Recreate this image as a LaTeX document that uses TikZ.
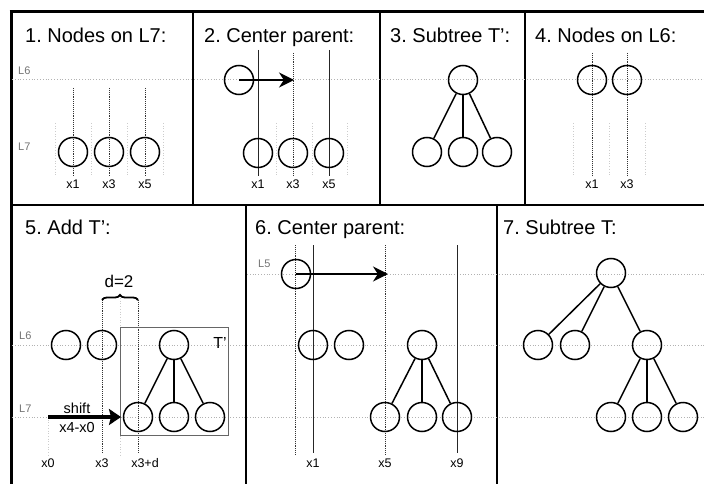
\documentclass[tikz,border=0pt]{standalone}
\usepackage{fontspec}
\setmainfont{Liberation Sans}
\usetikzlibrary{arrows.meta,decorations.pathreplacing}
\frenchspacing
\begin{document}
\begin{tikzpicture}[x=1pt,y=-1pt,
  nd/.style={circle, fill=none, draw=black, line width=1.5pt, minimum size=29pt, inner sep=0pt},
  edge/.style={line width=1.5pt},
  lvl/.style={gray!60, dotted, line width=0.8pt},
  guide/.style={black!80, densely dotted, line width=0.9pt},
  bound/.style={gray!40, dotted, line width=0.7pt},
  rail/.style={black!85, line width=0.7pt},
  frame/.style={black, line width=1.5pt},
  ttl/.style={anchor=base west, inner sep=0pt, font=\fontsize{20}{24}\selectfont},
  xl/.style={inner sep=0pt, font=\fontsize{12.5}{14}\selectfont},
  ll/.style={anchor=base west, inner sep=0pt, text=gray!90!black, font=\fontsize{11}{13}\selectfont},
  push/.style={line width=2pt, -{Stealth[length=15pt,width=15pt]}}]
\useasboundingbox (0,0) rectangle (704,484);
\draw [line width=3pt] (9.5,12) -- (704,12);
\draw [line width=3pt] (11,10.5) -- (11,484);
\draw [frame] (11,205) -- (704,205);
\draw [frame] (193,12) -- (193,205);
\draw [frame] (380,12) -- (380,205);
\draw [frame] (525,12) -- (525,205);
\draw [frame] (246,205) -- (246,484);
\draw [frame] (497,205) -- (497,484);
\node [ttl] (t1) at (25,43) {1. Nodes on L7:};
\node [ttl] (t2) at (204,43) {2. Center parent:};
\node [ttl] (t3) at (390,43) {3. Subtree T':};
\node [ttl] (t4) at (535,43) {4. Nodes on L6:};
\node [ttl] (t5) at (25,234) {5. Add T':};
\node [ttl] (t6) at (255,234) {6. Center parent:};
\node [ttl] (t7) at (503,234) {7. Subtree T:};
\draw [lvl] (12,79) -- (704,79);
\node [ll] (la6) at (18,75) {L6};
\node [ll] (la7) at (18,150) {L7};
\draw [bound] (55,123) -- (55,175);
\draw [bound] (91,123) -- (91,175);
\draw [bound] (127,123) -- (127,175);
\draw [bound] (163,123) -- (163,175);
\draw [guide] (73,88) -- (73,177);
\draw [guide] (109,88) -- (109,177);
\draw [guide] (145,88) -- (145,177);
\node [nd] (a1) at (73,152) {};
\node [nd] (a3) at (109,152) {};
\node [nd] (a5) at (145,152) {};
\node [xl] (ax1) at (73,184) {x1};
\node [xl] (ax3) at (109,184) {x3};
\node [xl] (ax5) at (145,184) {x5};
\draw [bound] (276,123) -- (276,175);
\draw [bound] (312,123) -- (312,175);
\draw [bound] (347,123) -- (347,175);
\draw [rail] (258,50) -- (258,176);
\draw [rail] (329,50) -- (329,176);
\draw [guide] (293,53) -- (293,176);
\node [nd] (b0) at (239,80) {};
\node [nd] (b1) at (258,153) {};
\node [nd] (b3) at (293,153) {};
\node [nd] (b5) at (329,153) {};
\coordinate (b0to) at (294,80);
\draw [push] (b0.center) -- (b0to);
\node [xl] (bx1) at (258,184) {x1};
\node [xl] (bx3) at (293,184) {x3};
\node [xl] (bx5) at (329,184) {x5};
\node [nd] (c0) at (463,80) {};
\node [nd] (c1) at (427,152) {};
\node [nd] (c2) at (463,152) {};
\node [nd] (c3) at (497,152) {};
\draw [edge] (c0) -- (c1);
\draw [edge] (c0) -- (c2);
\draw [edge] (c0) -- (c3);
\draw [bound] (573,123) -- (573,175);
\draw [bound] (609,123) -- (609,175);
\draw [bound] (645,123) -- (645,175);
\draw [guide] (592,53) -- (592,176);
\draw [guide] (627,53) -- (627,176);
\node [nd] (d1) at (592,80) {};
\node [nd] (d3) at (627,80) {};
\node [xl] (dx1) at (592,184) {x1};
\node [xl] (dx3) at (627,184) {x3};
\draw [lvl] (12,345) -- (245,345);
\draw [lvl] (12,417) -- (245,417);
\node [ll] (le6) at (19,339) {L6};
\node [ll] (le7) at (19,412) {L7};
\draw [bound] (120,298) -- (120,455);
\draw [bound] (48,417) -- (48,455);
\draw [guide] (102,300) -- (102,453);
\draw [guide] (138,300) -- (138,453);
\draw [gray!80!black, line width=0.8pt] (120,327) rectangle (228,435);
\node [font=\fontsize{16}{18}\selectfont] (tp) at (220,343) {T'};
\draw [decorate, decoration={brace, amplitude=5pt}, line width=1.8pt] (102,300) -- (138,300);
\node [font=\fontsize{17}{20}\selectfont] (dd) at (119,281) {d=2};
\node [nd] (e1) at (66,345) {};
\node [nd] (e3) at (102,345) {};
\node [nd] (f0) at (174,345) {};
\node [nd] (f1) at (138,417) {};
\node [nd] (f2) at (174,417) {};
\node [nd] (f3) at (210,417) {};
\draw [edge] (f0) -- (f1);
\draw [edge] (f0) -- (f2);
\draw [edge] (f0) -- (f3);
\coordinate (s0) at (48,417);
\coordinate (s1) at (121,417);
\draw [line width=4.5pt, -{Stealth[length=12pt,width=16pt,inset=2pt]}] (s0) -- (s1);
\node [font=\fontsize{14.5}{16}\selectfont] (sh) at (77,408) {shift};
\node [font=\fontsize{14.5}{16}\selectfont] (sx) at (77,428) {x4-x0};
\node [xl] (ex0) at (48,463) {x0};
\node [xl] (ex3) at (102,463) {x3};
\node [xl] (exd) at (145,463) {x3+d};
\draw [lvl] (247,274) -- (704,274);
\draw [lvl] (247,345) -- (704,345);
\draw [lvl] (247,417) -- (704,417);
\node [ll] (lg5) at (258,267) {L5};
\draw [rail] (313,245) -- (313,453);
\draw [rail] (457,245) -- (457,453);
\draw [guide] (295,245) -- (295,455);
\draw [guide] (385,245) -- (385,455);
\node [nd] (g0) at (296,274) {};
\coordinate (g0to) at (388,274);
\draw [push] (g0.center) -- (g0to);
\node [nd] (h1) at (313,345) {};
\node [nd] (h3) at (349,345) {};
\node [nd] (k0) at (422,345) {};
\node [nd] (k1) at (385,417) {};
\node [nd] (k2) at (422,417) {};
\node [nd] (k3) at (457,417) {};
\draw [edge] (k0) -- (k1);
\draw [edge] (k0) -- (k2);
\draw [edge] (k0) -- (k3);
\node [xl] (gx1) at (313,463) {x1};
\node [xl] (gx5) at (385,463) {x5};
\node [xl] (gx9) at (457,463) {x9};
\node [nd] (m0) at (611,273) {};
\node [nd] (n1) at (538,345) {};
\node [nd] (n2) at (575,345) {};
\node [nd] (n3) at (647,345) {};
\node [nd] (q1) at (611,417) {};
\node [nd] (q2) at (647,417) {};
\node [nd] (q3) at (683,417) {};
\draw [edge] (m0) -- (n1);
\draw [edge] (m0) -- (n2);
\draw [edge] (m0) -- (n3);
\draw [edge] (n3) -- (q1);
\draw [edge] (n3) -- (q2);
\draw [edge] (n3) -- (q3);
\end{tikzpicture}
\end{document}
